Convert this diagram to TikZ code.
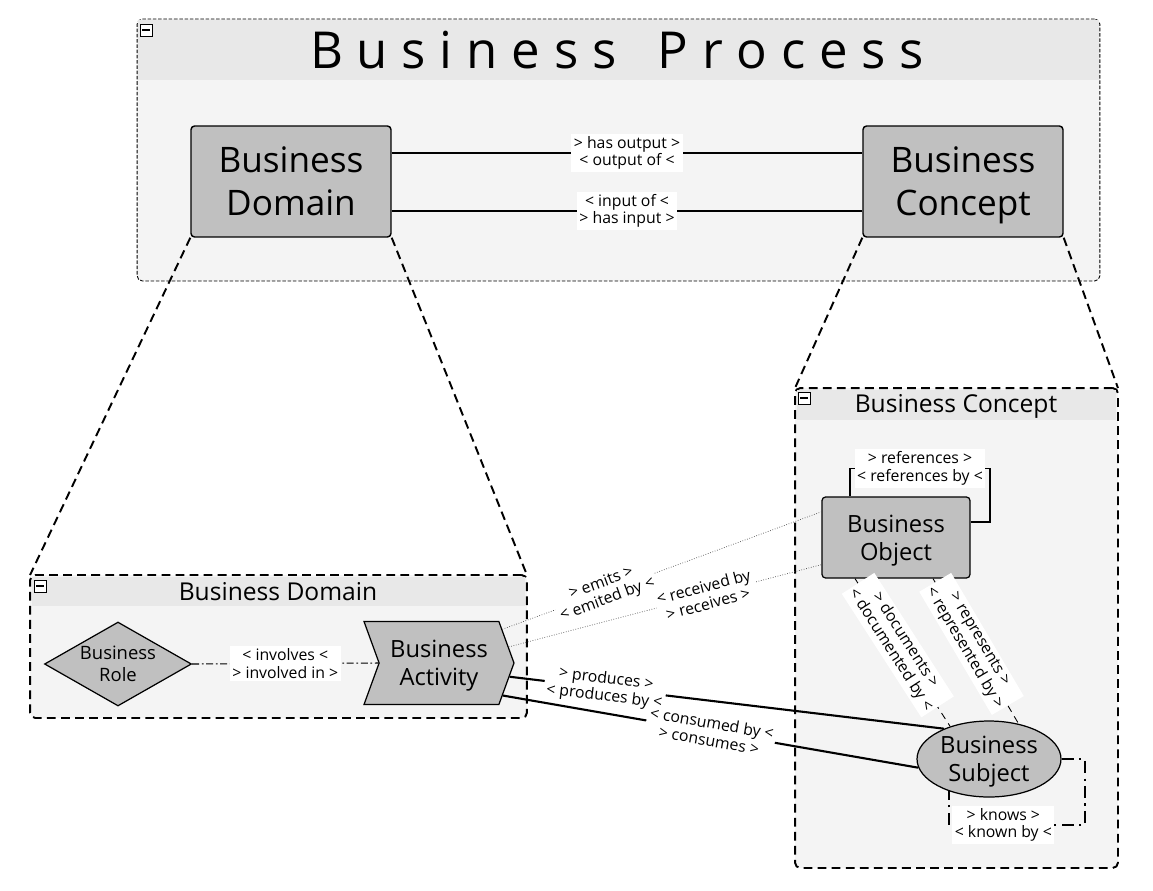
\documentclass[tikz,border=0pt]{standalone}
\usepackage{fontspec}
\setmainfont{Open Sans}
\usetikzlibrary{shapes.geometric,shapes.symbols}
\definecolor{hdrgray}{HTML}{E8E8E8}
\definecolor{bodygray}{HTML}{F4F4F4}
\definecolor{nodegray}{HTML}{C0C0C0}

\begin{document}
\begin{tikzpicture}
	[x=0.02cm,y=-0.02cm,
	grp/.style={fill=bodygray, outer sep=0pt, inner sep=0pt, rounded corners=3pt},
	thingrp/.style={grp, draw, line width=0.5pt, dash pattern=on 2pt off 1pt},
	thickgrp/.style={grp, draw, line width=1.1pt, dash pattern=on 5pt off 3pt},
	zoomline/.style={line width=1.1pt, dash pattern=on 5pt off 3pt},
	mbox/.style={draw, fill=white, minimum size=0.24cm, inner sep=0pt, line width=0.5pt},
	grptitle/.style={inner sep=0pt, font=\fontsize{14}{16}\selectfont},
	bigbox/.style={rectangle, rounded corners=2pt, draw, line width=0.8pt, fill=nodegray, minimum width=4cm, minimum height=2.22cm, align=center, text depth=0pt, font=\fontsize{20}{24.5}\selectfont},
	midnode/.style={draw, line width=0.7pt, fill=nodegray, inner sep=0pt, align=center, text depth=0pt, font=\fontsize{13.5}{16}\selectfont},
	lbl/.style={fill=white, text=black, inner sep=1.5pt, align=center, font=\fontsize{9}{10}\selectfont},
	plain/.style={line width=0.8pt},
	heavy/.style={line width=1.2pt},
	dotline/.style={densely dotted, line width=0.4pt, black!70},
	dashline/.style={line width=0.5pt, dash pattern=on 4pt off 3pt},
	ddline/.style={line width=0.6pt, dash pattern=on 4pt off 1.5pt on 1pt off 1.5pt},
	knowsline/.style={line width=1.1pt, dash pattern=on 7pt off 3pt on 1.2pt off 3pt}]
	\useasboundingbox (0,0) rectangle (1153,890);
	
	% Business Process
	\node[thingrp, minimum width=19.26cm, minimum height=5.24cm] (procgrp) at (618.5,150) {};
	\fill[hdrgray] ([xshift=0.6pt,yshift=-0.6pt]procgrp.north west) rectangle ([xshift=-0.6pt,yshift=-1.22cm]procgrp.north east);
	\node[mbox] (procmin) at (146,30) {\rule[0.1pt]{4pt}{1.2pt}};
	\node[inner sep=0pt, font=\fontsize{29}{32}\selectfont] (proctitle) at (617,50) {\spaceskip=0.27em\relax B u s i n e s s \ \ P r o c e s s};
	\node[bigbox] (bd) at (291,181.5) {Business\\Domain};
	\node[bigbox] (bc) at (963,181.5) {Business\\Concept};
	\draw[plain] ([yshift=0.57cm]bd.east) -- ([yshift=0.57cm]bc.west) node[lbl, midway] {> has output >\\< output of <};
	\draw[plain] ([yshift=-0.59cm]bd.east) -- ([yshift=-0.59cm]bc.west) node[lbl, midway] {< input of <\\> has input >};
	
	% Business Domain
	\node[thickgrp, minimum width=9.94cm, minimum height=2.86cm] (domgrp) at (278.5,646.5) {};
	\fill[hdrgray] ([xshift=1.1pt,yshift=-1.1pt]domgrp.north west) rectangle ([xshift=-1.1pt,yshift=-0.62cm]domgrp.north east);
	\node[mbox] (dommin) at (40,586) {\rule[0.1pt]{4pt}{1.2pt}};
	\node[grptitle] (domtitle) at (278,592) {Business Domain};
	\node[diamond, aspect=1.75, draw, line width=0.7pt, fill=nodegray, inner sep=0pt, minimum width=2.94cm, minimum height=1.68cm, align=center, font=\fontsize{10.5}{12.5}\selectfont] (brole) at (118,664) {Business\\Role};
	\node[midnode, signal, signal to=east, signal from=west, signal pointer angle=140, minimum width=3cm, minimum height=1.66cm] (bact) at (439,663) {Business\\Activity};
	\draw[ddline] (brole.east) -- (bact.180) node[lbl, midway] {< involves <\\> involved in >};
	
	% Business Concept
	\node[thickgrp, minimum width=6.46cm, minimum height=9.6cm] (congrp) at (956.5,628) {};
	\fill[hdrgray] ([xshift=1.1pt,yshift=-1.1pt]congrp.north west) rectangle ([xshift=-1.1pt,yshift=-0.64cm]congrp.north east);
	\node[mbox] (conmin) at (804,398) {\rule[0.1pt]{4pt}{1.2pt}};
	\node[grptitle] (contitle) at (956,406) {Business Concept};
	\node[midnode, rectangle, rounded corners=2pt, minimum width=2.96cm, minimum height=1.62cm] (bo) at (896,537.5) {Business\\Object};
	\node[midnode, ellipse, minimum width=2.88cm, minimum height=1.52cm] (bs) at (989,759) {Business\\Subject};
	\draw[plain] ([xshift=-0.92cm]bo.north) -- ++(0,-28) -- ++(140,0) node[lbl, midway] {> references >\\< references by <} |- ([yshift=0.31cm]bo.east);
	\draw[dashline] ([xshift=-0.82cm]bo.south) -- (bs.140) node[lbl, sloped, pos=0.45] {> documents >\\< documented by <};
	\draw[dashline] ([xshift=0.74cm]bo.south) -- (bs.50) node[lbl, sloped, pos=0.45] {> represents >\\< represented by >};
	\draw[knowsline] (bs.east) -- ++(23,0) -- ++(0,66) -| (bs.219) node[lbl, pos=0.3] {> knows >\\< known by <};
	
	% zoom lines
	\foreach \from/\to in {bd.south west/domgrp.north west,bd.south east/domgrp.north east,bc.south west/congrp.north west,bc.south east/congrp.north east}
	\draw[zoomline] (\from) -- (\to);
	
	% across the groups
	\draw[dotline] (bact.28) -- (bo.161) node[lbl, sloped, pos=0.32] {> emits >\\< emited by <};
	\draw[dotline] (bact.13) -- (bo.200) node[lbl, sloped, pos=0.63] {< received by\\> receives >};
	\draw[heavy] (bact.-11) -- (bs.146) node[lbl, sloped, pos=0.22] {> produces >\\< produces by <};
	\draw[heavy] (bact.-27) -- (bs.187) node[lbl, sloped, pos=0.5] {< consumed by <\\> consumes >};
\end{tikzpicture}
\end{document}
